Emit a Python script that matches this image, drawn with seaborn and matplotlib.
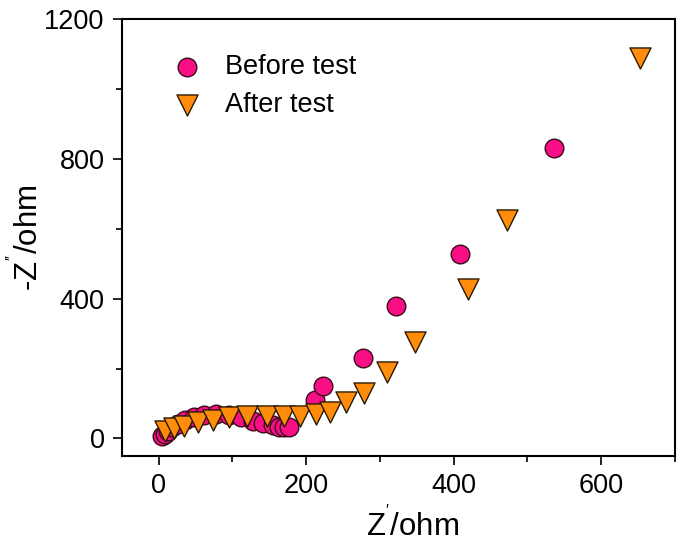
import matplotlib
matplotlib.use("Agg")
import matplotlib.pyplot as plt
import matplotlib.ticker as ticker
import pandas as pd
import seaborn as sns

# ── Data ──────────────────────────────────────────────────────────────────────

before_x = [5, 8, 12, 18, 26, 36, 48, 62, 78, 95, 112, 128, 142, 155, 163,
            170, 176, 212, 223, 277, 322, 408, 536]
before_y = [8, 14, 22, 32, 42, 52, 60, 66, 70, 68, 60, 50, 45, 38, 34,
            32, 32, 109, 149, 229, 380, 529, 831]

after_x = [9, 20, 34, 53, 73, 95, 120, 147, 170, 192, 213, 232, 254, 278,
           310, 347, 420, 472, 653]
after_y = [20, 31, 37, 46, 54, 60, 63, 63, 63, 63, 69, 77, 103, 131,
           189, 277, 429, 626, 1089]

x_ticks = [0, 200, 400, 600]
y_ticks = [0, 400, 800, 1200]

# ── Style ─────────────────────────────────────────────────────────────────────

sns.set_theme(style="ticks")
plt.rcParams.update({
    "font.family": ["Liberation Sans", "DejaVu Sans"],
    "mathtext.fontset": "custom",
    "mathtext.rm": "Liberation Sans",
    "axes.linewidth": 1.5,
    "text.color": "black",
    "axes.labelcolor": "black",
    "xtick.color": "black",
    "ytick.color": "black",
    "axes.edgecolor": "black",
})

before = pd.DataFrame({"x": before_x, "y": before_y, "test": "Before test"})
after = pd.DataFrame({"x": after_x, "y": after_y, "test": "After test"})

fig = plt.figure(figsize=(6.85, 5.46), dpi=100)
ax = fig.add_axes([0.178, 0.165, 0.807, 0.800])

sns.scatterplot(data=before, x="x", y="y", ax=ax, marker="o", s=180,
                color="#f80f85", edgecolor="#3a0a1a", linewidth=1.0,
                label="Before test", zorder=3)
sns.scatterplot(data=after, x="x", y="y", ax=ax, marker="v", s=230,
                color="#ff8c0a", edgecolor="#2a1a05", linewidth=1.0,
                label="After test", zorder=4)

ax.set_xlim(-50, 700)
ax.set_ylim(-50, 1200)
ax.set_xticks(x_ticks)
ax.set_yticks(y_ticks)
ax.xaxis.set_minor_locator(ticker.MultipleLocator(100))
ax.yaxis.set_minor_locator(ticker.MultipleLocator(200))
ax.tick_params(which="major", direction="out", length=6.5, width=1.2,
               labelsize=19.5, pad=6)
ax.tick_params(which="minor", direction="out", length=4, width=1.2)
for sp in ax.spines.values():
    sp.set_visible(True)

ax.set_xlabel(r"Z$^{'}$/ohm", fontsize=22.5)
ax.set_ylabel(r"-Z$^{''}$/ohm", fontsize=22.5)
ax.xaxis.set_label_coords(0.526, -0.12)
ax.yaxis.set_label_coords(-0.14, 0.5)

ax.legend(loc="upper left", bbox_to_anchor=(0.025, 0.975), frameon=False,
          fontsize=19.5, handletextpad=0.4, labelspacing=0.42,
          markerscale=1.0)

fig.savefig("out.png", dpi=100)
